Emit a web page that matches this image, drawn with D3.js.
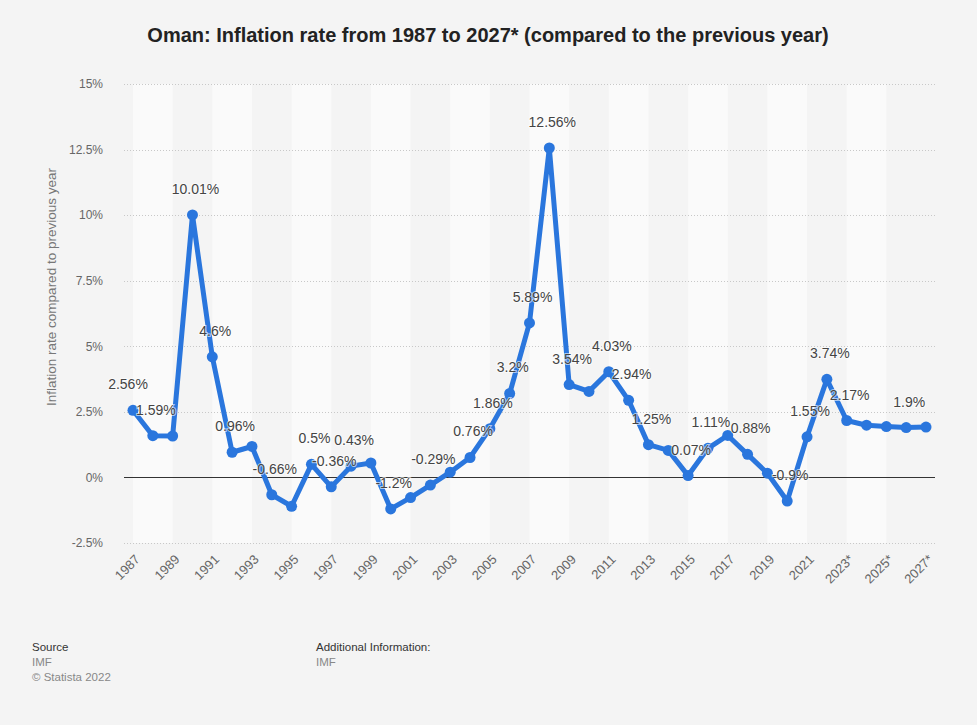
<!DOCTYPE html>
<html>
<head>
<meta charset="utf-8">
<script src="https://cdn.jsdelivr.net/npm/d3@7"></script>
<style>
  body { margin: 0; background: #f4f4f4; font-family: "Liberation Sans", Arial, Helvetica, sans-serif; }
</style>
</head>
<body>
<div id="chart"></div>
<script>
// data
var years = d3.range(1987, 2028);
var inflation = [2.56, 1.59, 1.58, 10.01, 4.6, 0.96, 1.18, -0.66, -1.1, 0.5, -0.36, 0.43, 0.55,
  -1.2, -0.77, -0.29, 0.2, 0.76, 1.86, 3.2, 5.89, 12.56, 3.54, 3.28, 4.03, 2.94, 1.25, 1.03,
  0.07, 1.11, 1.6, 0.88, 0.16, -0.9, 1.55, 3.74, 2.17, 1.99, 1.94, 1.9, 1.92];
var pointLabels = ["2.56%", "1.59%", null, "10.01%", "4.6%", "0.96%", null, "-0.66%", null, "0.5%",
  "-0.36%", "0.43%", null, "-1.2%", null, "-0.29%", null, "0.76%", "1.86%", "3.2%", "5.89%",
  "12.56%", "3.54%", null, "4.03%", "2.94%", "1.25%", null, "0.07%", "1.11%", null, "0.88%", null,
  "-0.9%", "1.55%", "3.74%", "2.17%", null, null, "1.9%", null];
var yTicks = [-2.5, 0, 2.5, 5, 7.5, 10, 12.5, 15];
var xTickYears = d3.range(1987, 2028, 2);

var width = 977, height = 725;
var plotLeft = 124, plotRight = 935, plotTop = 84, plotBottom = 543;

var points = years.map(function(yr, i) {
  return { year: yr, value: inflation[i], label: pointLabels[i] };
});

var svg = d3.select("#chart").append("svg")
  .attr("width", width)
  .attr("height", height);

svg.append("rect").attr("width", width).attr("height", height).attr("fill", "#f4f4f4");

var x = d3.scaleLinear().domain([1987, 2027]).range([133, 926]);
var y = d3.scaleLinear().domain([-2.5, 15]).range([plotBottom, plotTop]);

// alternating column bands
svg.selectAll("rect.band")
  .data(d3.range(1987, 2027, 4))
  .enter()
  .append("rect")
  .attr("class", "band")
  .attr("x", function(d) { return x(d); })
  .attr("y", plotTop)
  .attr("width", function(d) { return x(d + 2) - x(d); })
  .attr("height", plotBottom - plotTop)
  .attr("fill", "#fafafa");

// grid
svg.selectAll("line.grid")
  .data(yTicks.filter(function(d) { return d !== 0; }))
  .enter()
  .append("line")
  .attr("class", "grid")
  .attr("x1", plotLeft).attr("x2", plotRight)
  .attr("y1", function(d) { return Math.round(y(d)) + 0.5; })
  .attr("y2", function(d) { return Math.round(y(d)) + 0.5; })
  .attr("stroke", "#c8c8c8")
  .attr("stroke-width", 1)
  .attr("stroke-dasharray", "1,2");

// y axis labels
var yAxis = d3.axisLeft(y).tickValues(yTicks).tickSize(0).tickPadding(0)
  .tickFormat(function(d) { return d + "%"; });
var yg = svg.append("g").attr("transform", "translate(103,0)").call(yAxis);
yg.select(".domain").remove();
yg.selectAll("text")
  .attr("fill", "#666")
  .attr("font-size", "12px")
  .attr("font-family", "'Liberation Sans', Arial, sans-serif");

// zero line
svg.append("line")
  .attr("x1", plotLeft).attr("x2", plotRight)
  .attr("y1", Math.round(y(0)) + 0.5).attr("y2", Math.round(y(0)) + 0.5)
  .attr("stroke", "#333")
  .attr("stroke-width", 1.2);

// x axis labels
var xAxis = d3.axisBottom(x).tickValues(xTickYears).tickSize(0).tickPadding(0)
  .tickFormat(function(d) { return d > 2021 ? d + "*" : d; });
var xg = svg.append("g").attr("transform", "translate(0," + (plotBottom + 14) + ")").call(xAxis);
xg.select(".domain").remove();
xg.selectAll("text")
  .attr("fill", "#666")
  .attr("font-size", "13px")
  .attr("font-family", "'Liberation Sans', Arial, sans-serif")
  .attr("text-anchor", "end")
  .attr("dy", "0.35em")
  .attr("transform", "translate(4,0) rotate(-45)");

// line + markers
var line = d3.line()
  .x(function(d) { return x(d.year); })
  .y(function(d) { return y(d.value); });

svg.append("path")
  .datum(points)
  .attr("d", line)
  .attr("fill", "none")
  .attr("stroke", "#2a76dd")
  .attr("stroke-width", 5)
  .attr("stroke-linejoin", "round");

svg.selectAll("circle.pt")
  .data(points)
  .enter()
  .append("circle")
  .attr("class", "pt")
  .attr("cx", function(d) { return x(d.year); })
  .attr("cy", function(d) { return y(d.value); })
  .attr("r", 5.5)
  .attr("fill", "#2a76dd");

// value labels, nudged right a touch like the original (first one sits left)
svg.selectAll("text.val")
  .data(points.filter(function(d) { return d.label !== null; }))
  .enter()
  .append("text")
  .attr("class", "val")
  .attr("x", function(d) { return x(d.year) + (d.year === 1987 ? -5 : 3); })
  .attr("y", function(d) { return y(d.value) - 21; })
  .attr("text-anchor", "middle")
  .attr("font-size", "14px")
  .attr("fill", "#444")
  .attr("stroke", "rgba(255,255,255,0.6)")
  .attr("stroke-width", 2)
  .attr("paint-order", "stroke")
  .text(function(d) { return d.label; });

// title
svg.append("text")
  .attr("x", 488).attr("y", 42)
  .attr("text-anchor", "middle")
  .attr("font-size", "20px")
  .attr("font-weight", "bold")
  .attr("fill", "#222")
  .text("Oman: Inflation rate from 1987 to 2027* (compared to the previous year)");

// y axis title
svg.append("text")
  .attr("transform", "translate(56,287) rotate(-90)")
  .attr("text-anchor", "middle")
  .attr("font-size", "13.5px")
  .attr("fill", "#777")
  .text("Inflation rate compared to previous year");

// footer
var foot = svg.append("g").attr("font-size", "11.5px");
foot.append("text").attr("x", 32).attr("y", 651).attr("fill", "#333").text("Source");
foot.append("text").attr("x", 32).attr("y", 666).attr("fill", "#888").text("IMF");
foot.append("text").attr("x", 32).attr("y", 681).attr("fill", "#888").text("\u00a9 Statista 2022");
foot.append("text").attr("x", 316).attr("y", 651).attr("fill", "#333").text("Additional Information:");
foot.append("text").attr("x", 316).attr("y", 666).attr("fill", "#888").text("IMF");
</script>
</body>
</html>
